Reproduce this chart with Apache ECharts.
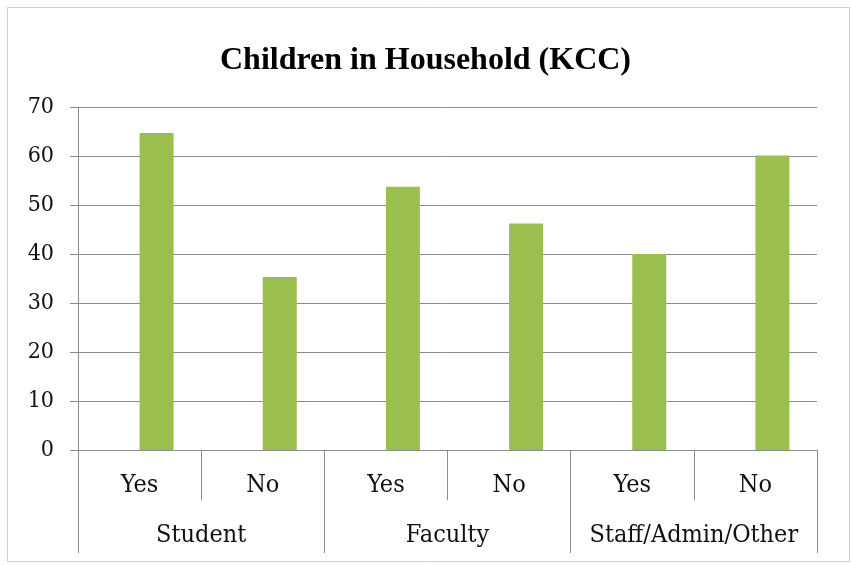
<!DOCTYPE html>
<html>
<head>
<meta charset="utf-8">
<script src="https://cdn.jsdelivr.net/npm/echarts@6/dist/echarts.min.js"></script>
<style>
html, body { margin: 0; padding: 0; background: #fff; }
#chart { width: 851px; height: 565px; }
</style>
</head>
<body>
<div id="chart"></div>
<script>
// data
const answers = ["Yes", "No", "Yes", "No", "Yes", "No"];
const groups = ["Student", "Faculty", "Staff/Admin/Other"];
const counts = [64.7, 35.3, 53.7, 46.2, 40, 60.1];
const yTicks = [0, 10, 20, 30, 40, 50, 60, 70];

const serif = "'Liberation Serif', 'DejaVu Serif', serif";
const labelFont = "'DejaVu Serif Condensed', 'DejaVu Serif', serif";
const lineGray = "#8c8c8c";

const chart = echarts.init(document.getElementById("chart"));

chart.setOption({
    animation: false,
    backgroundColor: "#fff",
    title: {
        text: "Children in Household (KCC)",
        left: "center",
        top: 40,
        textStyle: { fontFamily: serif, fontWeight: "bold", fontSize: 32, color: "#000" }
    },
    graphic: [{
        type: "rect",
        shape: { x: 7.5, y: 7.5, width: 842, height: 554 },
        style: { fill: "none", stroke: "#d0d0d0", lineWidth: 1 },
        silent: true
    }],
    grid: { left: 78, right: 34, top: 107, bottom: 115 },
    xAxis: [
        {
            type: "category",
            data: answers,
            position: "bottom",
            axisLine: { show: true, lineStyle: { color: lineGray, width: 1 } },
            axisTick: { show: true, interval: 0, length: 50, lineStyle: { color: lineGray } },
            axisLabel: { interval: 0, margin: 23, fontFamily: labelFont, fontSize: 25, color: "#111" }
        },
        {
            type: "category",
            data: groups,
            position: "bottom",
            axisLine: { show: false },
            axisTick: { show: true, interval: 0, length: 103, lineStyle: { color: lineGray } },
            axisLabel: { interval: 0, margin: 73, fontFamily: labelFont, fontSize: 25, color: "#111" }
        }
    ],
    yAxis: {
        type: "value",
        min: yTicks[0],
        max: yTicks[yTicks.length - 1],
        interval: 10,
        axisLine: { show: true, lineStyle: { color: lineGray } },
        axisTick: { show: true, length: 8, lineStyle: { color: lineGray } },
        axisLabel: { margin: 24, fontFamily: labelFont, fontSize: 23, color: "#111" },
        splitLine: { show: true, lineStyle: { color: lineGray, width: 1 } }
    },
    series: [
        {
            // empty slot that pushes the visible bars right, like the original
            type: "bar",
            xAxisIndex: 0,
            data: answers.map(() => null),
            barWidth: 34,
            barGap: 0,
            silent: true
        },
        {
            type: "bar",
            xAxisIndex: 0,
            data: counts,
            barWidth: 34,
            barGap: 0,
            itemStyle: { color: "#9bbf4f" }
        }
    ]
});
</script>
</body>
</html>
